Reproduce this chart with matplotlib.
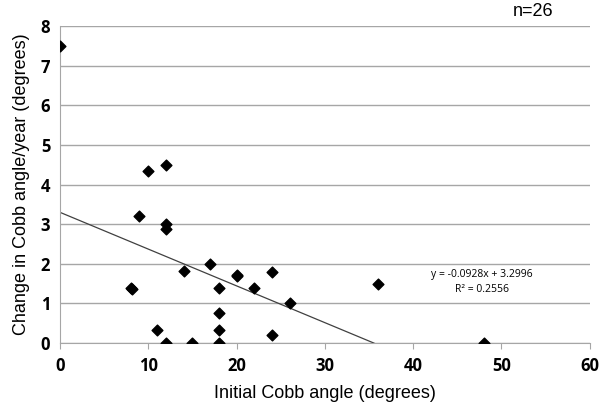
import numpy as np
import matplotlib.pyplot as plt

# Data
initial_angle = [0, 10, 12, 9, 12, 12, 8, 8.1, 11, 12, 14, 15, 17, 18, 18, 18, 18,
                 20, 20.1, 22, 24, 24, 26, 36, 48]
change_per_year = [7.5, 4.35, 4.5, 3.2, 3.0, 2.87, 1.4, 1.37, 0.32, 0.0, 1.83, 0.0, 2.0,
                   1.4, 0.75, 0.33, 0.0, 1.7, 1.73, 1.4, 1.8, 0.2, 1.0, 1.5, 0.0]
slope = -0.0928
intercept = 3.2996
r2 = 0.2556

fig = plt.figure(figsize=(6.0, 4.07), dpi=100)
ax = fig.add_axes([0.1, 0.157, 0.883, 0.779])

ax.grid(True, axis="y", color="#a6a6a6", linewidth=1)
ax.set_axisbelow(True)

x_end = -intercept / slope
xf = np.array([0, x_end])
ax.plot(xf, slope * xf + intercept, color="#404040", linewidth=0.9)

ax.scatter(initial_angle, change_per_year, marker="D", s=30, color="black", zorder=3)

ax.set_xlim(0, 60)
ax.set_ylim(0, 8)
ax.set_xticks(range(0, 61, 10))
ax.set_yticks(range(0, 9))

for side in ["top", "right"]:
    ax.spines[side].set_visible(False)
for side in ["left", "bottom"]:
    ax.spines[side].set_color("#a6a6a6")
ax.tick_params(axis="x", direction="out", length=4, color="#a6a6a6", pad=6)
ax.tick_params(axis="y", length=0, pad=7)
for lab in ax.get_xticklabels() + ax.get_yticklabels():
    lab.set_fontfamily("Open Sans")
    lab.set_fontweight("bold")
    lab.set_fontsize(12)

ax.set_xlabel("Initial Cobb angle (degrees)", fontfamily="Liberation Sans", fontsize=13, labelpad=7)
ax.set_ylabel("Change in Cobb angle/year (degrees)", fontfamily="Liberation Sans", fontsize=13, labelpad=8)

ax.text(47.8, 1.72, "y = -0.0928x + 3.2996", ha="center", va="center",
        fontfamily="Open Sans", fontsize=7.5)
ax.text(47.8, 1.34, "R² = 0.2556", ha="center", va="center",
        fontfamily="Open Sans", fontsize=7.5)

fig.text(0.888, 0.972, "n=26", ha="center", va="center", fontfamily="Liberation Sans", fontsize=13)

plt.savefig("out.png", dpi=100)
plt.close()
